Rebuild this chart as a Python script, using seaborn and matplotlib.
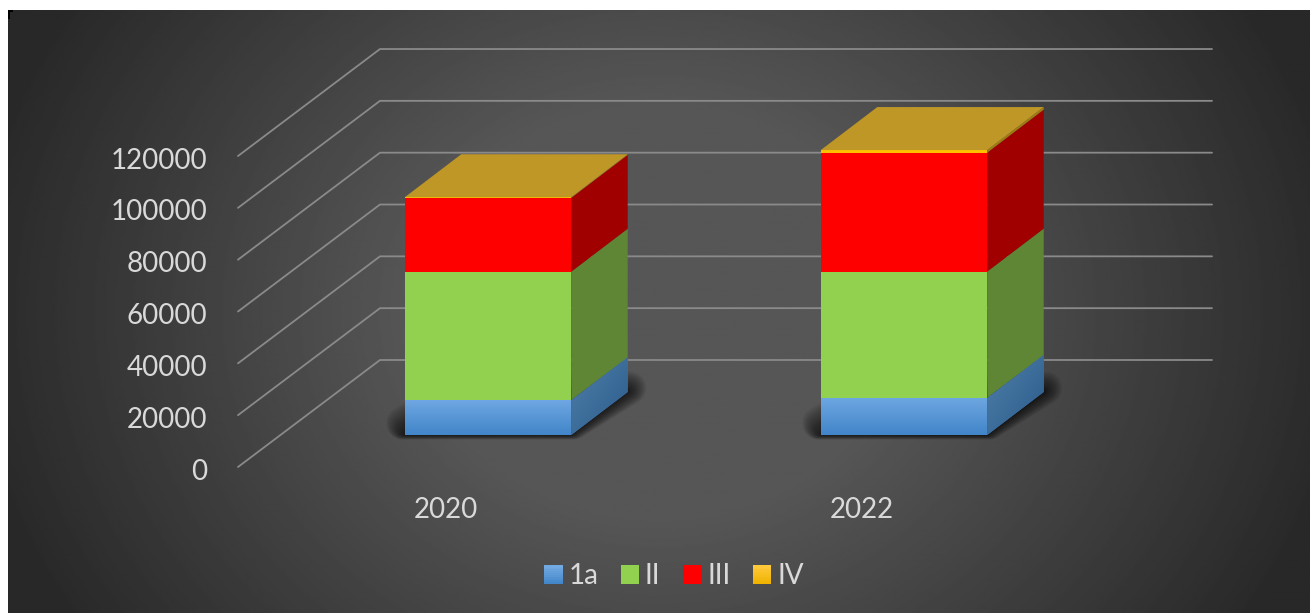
import numpy as np
import matplotlib
matplotlib.use('Agg')
import matplotlib.pyplot as plt
from matplotlib.legend_handler import HandlerBase
from matplotlib.patches import Patch, Polygon, Rectangle
from matplotlib.transforms import Affine2D
import seaborn as sns

# values
years = ['2020', '2022']
series_names = ['1a', 'II', 'III', 'IV']
vals_1a = [13400, 14300]
vals_2 = [49600, 48750]
vals_3 = [28500, 45900]
vals_4 = [250, 1000]
y_ticks = [0, 20000, 40000, 60000, 80000, 100000, 120000]

front_colors = ['#5b9bd5', '#92d050', '#ff0000', '#ffc000']
side_colors = ['#3f6f9c', '#5f8635', '#a00000', '#a07c10']
top_color = '#bf9727'
text_color = '#d9d9d9'
grid_color = '#8a8a8a'

W, H = 1310, 613
PX_X = 416.0            # pixels per category
PX_Y = 51.83 / 20000    # pixels per unit


def px_dx(p):
    return p / PX_X


def px_dy(p):
    return p / PX_Y


class GradientSwatch(HandlerBase):
    # legend square with a light top and a darker bottom, sits on the text baseline
    def __init__(self, c_top, c_bot):
        super().__init__()
        self.c_top = np.array(matplotlib.colors.to_rgb(c_top))
        self.c_bot = np.array(matplotlib.colors.to_rgb(c_bot))

    def create_artists(self, legend, orig, xd, yd, width, height, fontsize, trans):
        out = []
        n = 10
        for i in range(n):
            c = self.c_bot + (self.c_top - self.c_bot) * i / (n - 1)
            out.append(Rectangle((-xd, width * i / n), width, width / n + 0.2,
                                 facecolor=c, edgecolor='none', transform=trans))
        return out


def draw_gradient(ax, poly, c1, c2, diagonal=False):
    # fills a polygon with a gradient, c1 at the top and c2 at the bottom
    pts = np.array(poly.get_xy())
    ax.add_patch(poly)
    yy, xx = np.mgrid[0:1:40j, 0:1:40j]
    t = (yy + xx) / 2 if diagonal else yy
    c1 = np.array(matplotlib.colors.to_rgb(c1))
    c2 = np.array(matplotlib.colors.to_rgb(c2))
    img = c1 + (c2 - c1) * t[..., None]
    im = ax.imshow(img, extent=(pts[:, 0].min(), pts[:, 0].max(), pts[:, 1].min(), pts[:, 1].max()),
                   origin='upper', aspect='auto', zorder=poly.get_zorder() + 0.1, interpolation='bilinear')
    im.set_clip_box(ax.figure.bbox)
    im.set_clip_path(poly)


def main():
    sns.set_theme(style='white')
    plt.rcParams['font.family'] = ['Lato', 'DejaVu Sans']

    fig = plt.figure(figsize=(W / 100, H / 100), dpi=100, facecolor='white')

    # dark panel with a soft light spot in the middle
    bg = fig.add_axes([8 / W, 0, (W - 8) / W, (H - 10) / H], zorder=-1)
    yy, xx = np.mgrid[-1:1:300j, -1:1:600j]
    r = np.sqrt(xx ** 2 + (0.55 * yy) ** 2)
    gray = np.clip(0x56 - 66 * np.clip(r - 0.38, 0, None), 0x28, 0x56) / 255
    bg.imshow(gray, cmap='gray', vmin=0, vmax=1, aspect='auto', interpolation='bilinear')
    bg.axis('off')

    # small black corner mark of the original screenshot
    fig.add_artist(Rectangle((8 / W, 1 - 12 / H), 5 / W, 2 / H, transform=fig.transFigure, color='black', lw=0))
    fig.add_artist(Rectangle((8 / W, 1 - 19 / H), 2 / W, 9 / H, transform=fig.transFigure, color='black', lw=0))

    # front plane of the 3D box, the axis ticks live here
    ax = fig.add_axes([238 / W, (H - 467) / H, 832 / W, 6 * 51.83 / H])
    ax.patch.set_alpha(0)

    wall_dx, wall_dy = px_dx(142), px_dy(107)
    bar_dx, bar_dy = px_dx(42), px_dy(32)
    depth_dx, depth_dy = px_dx(56.5), px_dy(43)

    for v in y_ticks:
        ax.plot([-0.5, -0.5 + wall_dx, 1.5 + wall_dx], [v, v + wall_dy, v + wall_dy],
                color=grid_color, lw=1.3, clip_on=False, zorder=1)

    all_vals = [vals_1a, vals_2, vals_3, vals_4]
    bottoms = np.zeros(len(years))
    for k, vals in enumerate(all_vals):
        before = len(ax.patches)
        sns.barplot(x=years, y=vals, bottom=bottoms, color=front_colors[k], saturation=1,
                    width=0.4, linewidth=0, ax=ax, zorder=5)
        for rect in ax.patches[before:]:
            rect.set_x(rect.get_x() + bar_dx)
            rect.set_y(rect.get_y() + bar_dy)
            rect.set_clip_on(False)
            x1 = rect.get_x() + rect.get_width()
            y0 = rect.get_y()
            y1 = y0 + rect.get_height()
            side = [(x1, y0), (x1 + depth_dx, y0 + depth_dy), (x1 + depth_dx, y1 + depth_dy), (x1, y1)]
            if k == 0:
                # blue segment has a gradient on both faces
                x0 = rect.get_x()
                draw_gradient(ax, Polygon([(x0, y0), (x1, y0), (x1, y1), (x0, y1)], zorder=5.2, lw=0,
                                          clip_on=False), '#6ea7e2', '#4285c9')
                draw_gradient(ax, Polygon(side, zorder=5, lw=0, clip_on=False), '#507ea9', '#2a5c8a', diagonal=True)

                # soft shadow under the bar, rounded by the growing edge width
                for i in range(20, 0, -1):
                    gx = px_dx(i * 0.1)
                    front_y = y0 + px_dy(i * 0.6)
                    back_y = y0 + depth_dy + px_dy(i * 0.2)
                    floor = [(x0 - gx, front_y), (x1 + gx, front_y),
                             (x1 + depth_dx + gx, back_y), (x0 + depth_dx - gx, back_y)]
                    ax.add_patch(Polygon(floor, facecolor='black', edgecolor='black', alpha=0.045,
                                         lw=i * 1.2, joinstyle='round', clip_on=False, zorder=2))
            else:
                ax.add_patch(Polygon(side, facecolor=side_colors[k], lw=0, clip_on=False, zorder=5))
            if k == len(all_vals) - 1:
                x0 = rect.get_x()
                top = [(x0, y1), (x1, y1), (x1 + depth_dx, y1 + depth_dy), (x0 + depth_dx, y1 + depth_dy)]
                ax.add_patch(Polygon(top, facecolor=top_color, lw=0, clip_on=False, zorder=5))
        bottoms = bottoms + np.array(vals)

    ax.set_xlim(-0.5, 1.5)
    ax.set_ylim(0, 120000)
    ax.set_yticks(y_ticks)
    ax.set_yticklabels([str(v) for v in y_ticks])
    ax.set_xlabel('')
    ax.set_ylabel('')
    ax.tick_params(axis='y', length=0, pad=22, labelsize=20, labelcolor=text_color)
    ax.tick_params(axis='x', length=0, pad=21.5, labelsize=20, labelcolor=text_color)
    # y labels sit a little below the wall line ends
    for label in ax.get_yticklabels():
        label.set_transform(label.get_transform() + Affine2D().translate(0, -2))
    sns.despine(ax=ax, left=True, bottom=True)

    handles = [Patch(label=n) for n in series_names]
    hmap = {
        handles[0]: GradientSwatch('#72a9e2', '#4387c9'),
        handles[1]: GradientSwatch('#92d050', '#92d050'),
        handles[2]: GradientSwatch('#ff0000', '#ff0000'),
        handles[3]: GradientSwatch('#ffc93c', '#efb300'),
    }
    fig.legend(handles=handles, handler_map=hmap, loc='center', bbox_to_anchor=(674 / W, (H - 576) / H),
               ncols=4, frameon=False, fontsize=20, labelcolor=text_color, handlelength=0.66,
               handleheight=0.66, handletextpad=0.2, columnspacing=0.82, borderpad=0)

    fig.savefig('out.png', dpi=100, facecolor='white')


if __name__ == '__main__':
    main()
